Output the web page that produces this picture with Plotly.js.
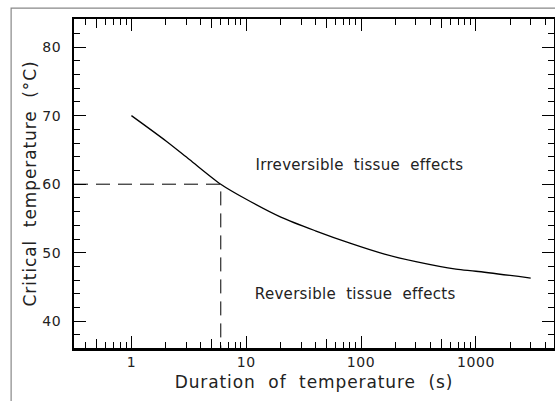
<!DOCTYPE html>
<html>
<head>
<meta charset="utf-8">
<script src="https://cdn.plot.ly/plotly-3.0.1.min.js"></script>
<style>
html,body{margin:0;padding:0;background:#fff;}
#chart{width:555px;height:401px;}
#chart text.xtitle, #chart text.ytitle{letter-spacing:0.9px;}
#chart text.annotation-text{letter-spacing:0.3px;}
#chart g.xtick text, #chart g.ytick text{letter-spacing:0.6px;}
</style>
</head>
<body>
<div id="chart"></div>
<script>
// Duration of temperature (s)
var duration = [1, 2, 3.2, 6, 10, 20, 40, 80, 160, 300, 670, 1000, 3000];
// Critical temperature (°C)
var critTemp = [70, 66.3, 63.6, 60, 57.8, 55.2, 53.2, 51.4, 49.8, 48.7, 47.6, 47.3, 46.3];
// Reference point (dashed guide lines)
var refDuration = [6];
var refTemp = [60];
var xTickVals = [1, 10, 100, 1000];
var xTickText = ['1', '10', '100', '1000'];
var xMidTickVals = [0.5, 5, 50, 500];
var yTickVals = [40, 50, 60, 70, 80];
var labels = ['Irreversible\u00a0 tissue\u00a0 effects', 'Reversible\u00a0 tissue\u00a0 effects'];
var labelX = [97, 90];
var labelTemp = [62.8, 44.0];

var xRange = [-0.5, 3.68];
var yRange = [36.1, 84.1];
var xmin = Math.pow(10, xRange[0]);

var traces = [
  {x: duration, y: critTemp, type: 'scatter', mode: 'lines', line: {color: '#000', width: 1.3, shape: 'spline', smoothing: 0.8}, hoverinfo: 'skip'},
  {x: [xmin, refDuration[0], refDuration[0]], y: [refTemp[0], refTemp[0], yRange[0] - 5], type: 'scatter', mode: 'lines', line: {color: '#000', width: 1, dash: '14px,8px'}, hoverinfo: 'skip'},
  {x: [xmin], y: [yRange[0] - 10], xaxis: 'x2', type: 'scatter', mode: 'markers', marker: {opacity: 0}, hoverinfo: 'skip'}
];

var fontFam = 'DejaVu Sans, sans-serif';
var layout = {
  width: 555, height: 401,
  margin: {l: 74, r: 1, t: 19, b: 53},
  paper_bgcolor: '#fff', plot_bgcolor: '#fff',
  showlegend: false,
  font: {family: fontFam, color: '#222', size: 14},
  xaxis: {
    type: 'log', range: xRange,
    tickvals: xTickVals, ticktext: xTickText,
    ticks: 'inside', ticklen: 12, tickwidth: 1, tickcolor: '#000',
    minor: {ticks: 'inside', ticklen: 6, tickwidth: 1, tickcolor: '#000', dtick: 'D1'},
    showline: true, linewidth: 2.5, linecolor: '#000', mirror: 'ticks',
    showgrid: false, zeroline: false,
    tickfont: {size: 14, family: fontFam, color: '#222'},
    ticklabelstandoff: 0,
    title: {text: 'Duration\u00a0 of\u00a0 temperature\u00a0 (s)', font: {size: 17, family: fontFam, color: '#222'}, standoff: 7}
  },
  xaxis2: {
    type: 'log', range: xRange, overlaying: 'x', anchor: 'y',
    tickvals: xMidTickVals, showticklabels: false,
    ticks: 'inside', ticklen: 9, tickwidth: 1, tickcolor: '#000',
    showline: false, mirror: 'ticks', showgrid: false, zeroline: false
  },
  yaxis: {
    range: yRange,
    tickvals: yTickVals,
    ticks: 'inside', ticklen: 12, tickwidth: 1, tickcolor: '#000',
    minor: {ticks: 'inside', ticklen: 6, tickwidth: 1, tickcolor: '#000', dtick: 2},
    showline: true, linewidth: 2, linecolor: '#000', mirror: 'ticks',
    showgrid: false, zeroline: false,
    tickfont: {size: 14, family: fontFam, color: '#222'},
    ticklabelstandoff: 8,
    title: {text: 'Critical\u00a0 temperature\u00a0 (°C)', font: {size: 17, family: fontFam, color: '#222'}, standoff: 2}
  },
  annotations: labels.map(function (t, i) {
    return {x: Math.log10(labelX[i]), y: labelTemp[i], xref: 'x', yref: 'y', text: t, showarrow: false,
      font: {size: 15, family: fontFam, color: '#222'}};
  }),
  shapes: [
    {type: 'rect', xref: 'paper', yref: 'paper', x0: -0.131, x1: 1.2, y0: -0.3, y1: 1.033,
     line: {color: '#888', width: 1.2}, layer: 'below'}
  ]
};

Plotly.newPlot('chart', traces, layout, {staticPlot: true, displayModeBar: false});
</script>
</body>
</html>
